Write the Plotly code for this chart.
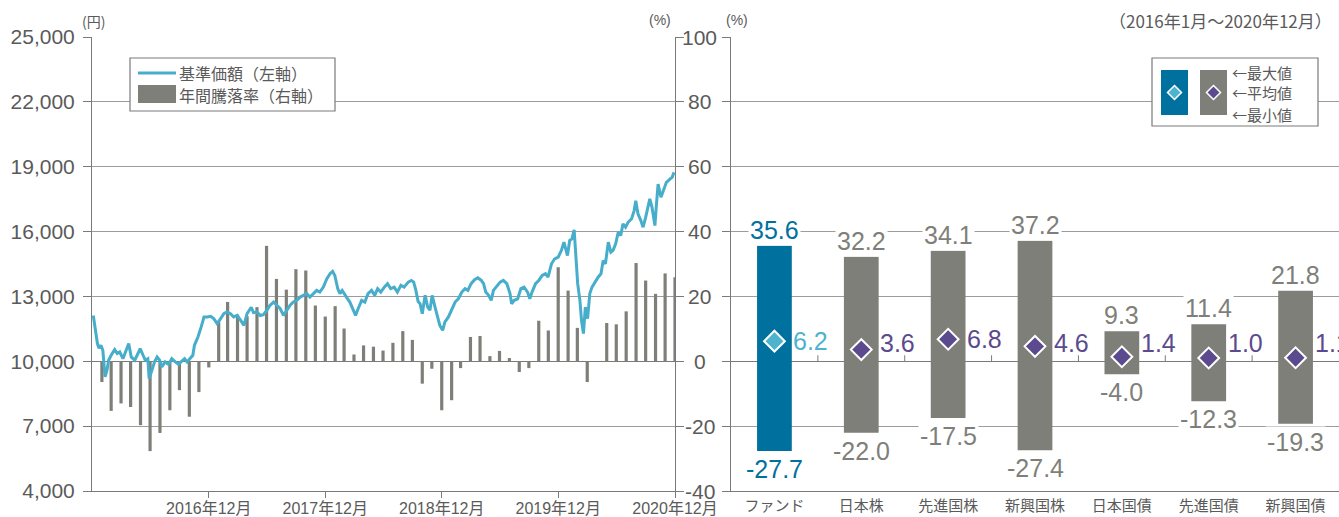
import plotly.graph_objects as go
import pandas as pd

W, H = 1339, 517

# ---------------- data: left chart ----------------
nav_dates = [
    "2016-01-04", "2016-01-08", "2016-01-17", "2016-01-22", "2016-01-28", "2016-02-03", "2016-02-10",
    "2016-02-16", "2016-02-21", "2016-02-29", "2016-03-11", "2016-03-19", "2016-03-27", "2016-04-06",
    "2016-04-13", "2016-04-24", "2016-05-02", "2016-05-13", "2016-05-23", "2016-05-30", "2016-06-08",
    "2016-06-15", "2016-06-23", "2016-06-27", "2016-07-06", "2016-07-14", "2016-07-22", "2016-07-30",
    "2016-08-06", "2016-08-16", "2016-08-27", "2016-09-06", "2016-09-17", "2016-09-27", "2016-10-05",
    "2016-10-16", "2016-10-24", "2016-11-01", "2016-11-11", "2016-11-16", "2016-11-27", "2016-12-07",
    "2016-12-16", "2016-12-26", "2017-01-06", "2017-01-16", "2017-01-26", "2017-02-06", "2017-02-16",
    "2017-02-26", "2017-03-09", "2017-03-19", "2017-03-30", "2017-04-10", "2017-04-20", "2017-04-30",
    "2017-05-13", "2017-05-20", "2017-05-31", "2017-06-10", "2017-06-20", "2017-07-01", "2017-07-11",
    "2017-07-22", "2017-08-01", "2017-08-12", "2017-08-22", "2017-09-02", "2017-09-12", "2017-09-22",
    "2017-10-03", "2017-10-13", "2017-10-23", "2017-11-03", "2017-11-13", "2017-11-23", "2017-12-04",
    "2017-12-14", "2017-12-25", "2018-01-05", "2018-01-15", "2018-01-23", "2018-01-30", "2018-02-08",
    "2018-02-15", "2018-02-22", "2018-03-03", "2018-03-11", "2018-03-18", "2018-03-28", "2018-04-05",
    "2018-04-13", "2018-04-24", "2018-05-04", "2018-05-14", "2018-05-25", "2018-06-04", "2018-06-13",
    "2018-06-23", "2018-07-04", "2018-07-14", "2018-07-24", "2018-08-04", "2018-08-14", "2018-08-25",
    "2018-09-04", "2018-09-17", "2018-09-27", "2018-10-04", "2018-10-11", "2018-10-18", "2018-10-24",
    "2018-10-31", "2018-11-09", "2018-11-17", "2018-11-24", "2018-12-01", "2018-12-10", "2018-12-18",
    "2018-12-25", "2019-01-03", "2019-01-10", "2019-01-21", "2019-01-31", "2019-02-11", "2019-02-21",
    "2019-03-04", "2019-03-14", "2019-03-23", "2019-04-02", "2019-04-13", "2019-04-23", "2019-05-04",
    "2019-05-11", "2019-05-18", "2019-05-27", "2019-06-04", "2019-06-11", "2019-06-22", "2019-07-02",
    "2019-07-12", "2019-07-23", "2019-08-02", "2019-08-07", "2019-08-15", "2019-08-26", "2019-09-05",
    "2019-09-15", "2019-09-26", "2019-10-03", "2019-10-10", "2019-10-21", "2019-10-31", "2019-11-11",
    "2019-11-21", "2019-11-29", "2019-12-10", "2019-12-20", "2019-12-31", "2020-01-10", "2020-01-18",
    "2020-01-29", "2020-02-05", "2020-02-12", "2020-02-19", "2020-02-23", "2020-03-01", "2020-03-08",
    "2020-03-13", "2020-03-19", "2020-03-25", "2020-04-01", "2020-04-08", "2020-04-15", "2020-04-24",
    "2020-05-04", "2020-05-13", "2020-05-20", "2020-05-27", "2020-06-05", "2020-06-13", "2020-06-20",
    "2020-06-28", "2020-07-06", "2020-07-14", "2020-07-21", "2020-07-29", "2020-08-06", "2020-08-17",
    "2020-08-25", "2020-08-30", "2020-09-06", "2020-09-15", "2020-09-22", "2020-09-30", "2020-10-08",
    "2020-10-13", "2020-10-20", "2020-10-29", "2020-11-03", "2020-11-08", "2020-11-17", "2020-11-24",
    "2020-12-04", "2020-12-15", "2020-12-22", "2020-12-28",
]
nav_values = [
    12120, 11740, 10820, 10600, 10740, 10510, 9280,
    9590, 10050, 10280, 10540, 10360, 10430, 10120,
    10360, 10820, 10200, 10050, 10360, 10590, 10280,
    10050, 10120, 9200, 9590, 9970, 10200, 10050,
    9740, 9970, 9860, 10120, 9970, 9860, 9970,
    10120, 9970, 10120, 10280, 10740, 11120, 11580,
    12050, 12050, 12080, 11970, 11740, 11970, 12200,
    12280, 12200, 12050, 12120, 11890, 11660, 12200,
    12500, 12250, 12280, 12120, 12160, 12360, 12590,
    12740, 12590, 12430, 12120, 12360, 12590, 12740,
    12820, 12970, 13050, 13130, 12970, 13130, 13280,
    13200, 13430, 13820, 14050, 14160, 13970, 13360,
    13130, 13280, 13050, 12890, 12740, 12430, 12120,
    12430, 12820, 12740, 13130, 13280, 13050, 13360,
    13200, 13430, 13590, 13360, 13430, 13200, 13510,
    13430, 13660, 13740, 13660, 13280, 12760, 12660,
    12200, 13050, 12510, 12360, 13050, 12510, 12050,
    11660, 11430, 11820, 12050, 12360, 12740, 12890,
    13200, 13360, 13280, 13590, 13770, 13860, 13740,
    13590, 13200, 13050, 12820, 13280, 13510, 13660,
    13740, 13590, 13130, 12660, 12820, 12890, 13360,
    13430, 13200, 12890, 13200, 13590, 13740, 13970,
    14050, 13890, 14510, 14740, 14820, 15130, 15510,
    14890, 15590, 15660, 16080, 15280, 13590, 12820,
    11890, 11280, 12510, 11970, 13130, 13430, 13660,
    13890, 14050, 14660, 14510, 15510, 15050, 15130,
    15430, 15970, 15820, 16360, 16200, 16430, 16590,
    16970, 17430, 16820, 16510, 16200, 16660, 17120,
    17510, 17120, 16280, 17280, 18200, 17590, 17890,
    18280, 18430, 18510, 18740,
]

ret_months = pd.date_range("2016-01-01", periods=60, freq="MS") + pd.offsets.MonthEnd(0)
ret_values = [
    -6.4, -15.3, -13.0, -14.1, -19.7, -27.7, -22.1, -15.1, -8.9, -17.1, -9.5, -1.9,
    12.3, 18.3, 14.4, 13.9, 16.7, 35.6, 25.4, 22.1, 28.4, 28.0, 17.2, 13.8,
    17.0, 10.1, 2.1, 4.9, 4.5, 3.3, 5.7, 9.3, 6.6, -6.9, -2.3, -15.1,
    -12.0, -2.1, 7.5, 7.8, 1.6, 3.2, 1.0, -3.3, -2.1, 12.5, 9.5, 29.0,
    21.8, 10.3, -6.4, -0.2, 11.8, 11.4, 15.4, 30.3, 24.9, 20.8, 27.1, 25.9,
]

yen_ticks = [4000, 7000, 10000, 13000, 16000, 19000, 22000, 25000]
pct_ticks = [-40, -20, 0, 20, 40, 60, 80, 100]
x_tick_dates = ["2016-12-31", "2017-12-31", "2018-12-31", "2019-12-31", "2020-12-31"]
x_tick_text = ["2016年12月", "2017年12月", "2018年12月", "2019年12月", "2020年12月"]

# ---------------- data: right chart ----------------
categories = ["ファンド", "日本株", "先進国株", "新興国株", "日本国債", "先進国債", "新興国債"]
max_values = [35.6, 32.2, 34.1, 37.2, 9.3, 11.4, 21.8]
min_values = [-27.7, -22.0, -17.5, -27.4, -4.0, -12.3, -19.3]
avg_values = [6.2, 3.6, 6.8, 4.6, 1.4, 1.0, 1.1]

# ---------------- style ----------------
LINE_BLUE = "#46aecb"
GRAY_BAR = "#7f7f79"
FUND_BLUE = "#00719e"
LIGHT_BLUE = "#4db3cf"
PURPLE = "#5c4a8e"
TEXT = "#5a5a5a"
AXIS = "#7a7a7a"
GRID = "#9c9c9c"
NUM_FONT = "Liberation Sans, Noto Sans CJK JP, sans-serif"
JP_FONT = "Noto Sans CJK JP, sans-serif"

M_T, M_B = 37, 26
PLOT_BOTTOM = H - M_B
PLOT_H = H - M_T - M_B


def PX(x):
    return x / W


def PY(y):
    return (PLOT_BOTTOM - y) / PLOT_H


fig = go.Figure()

# left chart: annual returns (bars) and NAV (line)
fig.add_trace(go.Bar(
    x=ret_months, y=ret_values, xaxis="x", yaxis="y",
    marker=dict(color=GRAY_BAR, line=dict(width=0)),
    width=10 * 86400000, showlegend=False, hoverinfo="skip",
))
fig.add_trace(go.Scatter(
    x=nav_dates, y=nav_values, xaxis="x", yaxis="y2", mode="lines",
    line=dict(color=LINE_BLUE, width=3), showlegend=False, hoverinfo="skip",
))

# right chart: range bars and averages
bar_colors = [FUND_BLUE] + [GRAY_BAR] * (len(categories) - 1)
label_colors = [FUND_BLUE] + [GRAY_BAR] * (len(categories) - 1)
avg_colors = [LIGHT_BLUE] + [PURPLE] * (len(categories) - 1)
fig.add_trace(go.Bar(
    x=categories, y=[mx - mn for mx, mn in zip(max_values, min_values)], base=min_values,
    xaxis="x2", yaxis="y3", marker=dict(color=bar_colors, line=dict(width=0)),
    width=0.4, showlegend=False, hoverinfo="skip",
))
fig.add_trace(go.Scatter(
    x=categories, y=avg_values, xaxis="x2", yaxis="y3", mode="markers",
    marker=dict(symbol="diamond", size=16, color=avg_colors, line=dict(color="white", width=2)),
    showlegend=False, hoverinfo="skip",
))

annotations = []
shapes = []

for cat, mx, mn, av, lc, ac in zip(categories, max_values, min_values, avg_values, label_colors, avg_colors):
    annotations.append(dict(x=cat, y=mx, xref="x2", yref="y3", text=f"{mx:.1f}", showarrow=False,
                            yanchor="bottom", yshift=0, font=dict(family=NUM_FONT, size=25, color=lc),
                            bgcolor="white", borderpad=1))
    annotations.append(dict(x=cat, y=mn, xref="x2", yref="y3", text=f"{mn:.1f}", showarrow=False,
                            yanchor="top", yshift=-2, font=dict(family=NUM_FONT, size=25, color=lc),
                            bgcolor="white", borderpad=1))
    annotations.append(dict(x=cat, y=max(av, 5.6), xref="x2", yref="y3", text=f"{av:.1f}", showarrow=False,
                            xanchor="left", xshift=17, yanchor="middle",
                            font=dict(family=NUM_FONT, size=25, color=ac)))

# boundary ticks on the zero line of the right chart
for i in range(1, len(categories)):
    shapes.append(dict(type="line", xref="x2", yref="y3", x0=i - 0.5, x1=i - 0.5,
                       ysizemode="pixel", yanchor=0, y0=0, y1=6,
                       line=dict(color=AXIS, width=1), layer="above"))

# shared percent tick labels, centred in the gap between the two charts
for v in pct_ticks:
    annotations.append(dict(x=PX(700), y=v, xref="paper", yref="y3", text=str(v), showarrow=False,
                            xanchor="center", yanchor="middle",
                            font=dict(family=NUM_FONT, size=21, color=TEXT)))

# unit labels / period
annotations += [
    dict(x=PX(93), y=PY(21), xref="paper", yref="paper", text="(円)", showarrow=False,
         xanchor="center", yanchor="middle", font=dict(family=JP_FONT, size=14, color=TEXT)),
    dict(x=PX(660), y=PY(20), xref="paper", yref="paper", text="(%)", showarrow=False,
         xanchor="center", yanchor="middle", font=dict(family=NUM_FONT, size=14, color=TEXT)),
    dict(x=PX(737), y=PY(20), xref="paper", yref="paper", text="(%)", showarrow=False,
         xanchor="center", yanchor="middle", font=dict(family=NUM_FONT, size=14, color=TEXT)),
    dict(x=PX(1334), y=PY(20), xref="paper", yref="paper", text="（2016年1月～2020年12月）", showarrow=False,
         xanchor="right", yanchor="middle", font=dict(family=JP_FONT, size=17, color=TEXT)),
]

# left legend
shapes += [
    dict(type="rect", xref="paper", yref="paper", x0=PX(130), x1=PX(335), y0=PY(58), y1=PY(111),
         line=dict(color=AXIS, width=1.2), fillcolor="white", layer="above"),
    dict(type="line", xref="paper", yref="paper", x0=PX(138), x1=PX(176), y0=PY(73), y1=PY(73),
         line=dict(color=LINE_BLUE, width=3), layer="above"),
    dict(type="rect", xref="paper", yref="paper", x0=PX(138), x1=PX(176), y0=PY(85), y1=PY(103),
         line=dict(width=0), fillcolor=GRAY_BAR, layer="above"),
]
annotations += [
    dict(x=PX(178), y=PY(73), xref="paper", yref="paper", text="基準価額（左軸）", showarrow=False,
         xanchor="left", yanchor="middle", borderpad=0, font=dict(family=JP_FONT, size=16, color=TEXT)),
    dict(x=PX(178), y=PY(95), xref="paper", yref="paper", text="年間騰落率（右軸）", showarrow=False,
         xanchor="left", yanchor="middle", borderpad=0, font=dict(family=JP_FONT, size=16, color=TEXT)),
]


def diamond_path(cx, cy, r):
    pts = [(cx, cy - r), (cx + r, cy), (cx, cy + r), (cx - r, cy)]
    return "M " + " L ".join(f"{PX(x):.5f},{PY(y):.5f}" for x, y in pts) + " Z"


# right legend
shapes += [
    dict(type="rect", xref="paper", yref="paper", x0=PX(1152), x1=PX(1318), y0=PY(58), y1=PY(126),
         line=dict(color=AXIS, width=1.2), fillcolor="white", layer="above"),
    dict(type="rect", xref="paper", yref="paper", x0=PX(1161), x1=PX(1188), y0=PY(70), y1=PY(115),
         line=dict(width=0), fillcolor=FUND_BLUE, layer="above"),
    dict(type="rect", xref="paper", yref="paper", x0=PX(1200), x1=PX(1227), y0=PY(70), y1=PY(115),
         line=dict(width=0), fillcolor=GRAY_BAR, layer="above"),
    dict(type="path", xref="paper", yref="paper", path=diamond_path(1174.5, 92.5, 7),
         line=dict(color="white", width=1.5), fillcolor=LIGHT_BLUE, layer="above"),
    dict(type="path", xref="paper", yref="paper", path=diamond_path(1213.5, 92.5, 7),
         line=dict(color="white", width=1.5), fillcolor=PURPLE, layer="above"),
]
for txt, yy in [("←最大値", 72), ("←平均値", 93), ("←最小値", 114)]:
    annotations.append(dict(x=PX(1231), y=PY(yy), xref="paper", yref="paper", text=txt, showarrow=False,
                            xanchor="left", yanchor="middle", borderpad=0,
                            font=dict(family=JP_FONT, size=15, color=TEXT)))

fig.update_layout(
    template="none",
    width=W, height=H,
    margin=dict(l=0, r=0, t=M_T, b=M_B, pad=0, autoexpand=False),
    paper_bgcolor="white", plot_bgcolor="white",
    barmode="overlay",
    showlegend=False,
    xaxis=dict(
        domain=[PX(92), PX(675)], anchor="y", type="date", automargin=False,
        range=["2015-12-31", "2020-12-31"],
        tickvals=x_tick_dates, ticktext=x_tick_text,
        ticks="outside", ticklen=6, tickcolor=AXIS, showline=True, linecolor=AXIS, linewidth=1,
        showgrid=False, zeroline=False, ticklabelstandoff=-3,
        tickfont=dict(family=NUM_FONT, size=16, color=TEXT),
    ),
    yaxis=dict(
        anchor="x", side="right", range=[-40, 100], tickvals=pct_ticks, showticklabels=False,
        automargin=False,
        ticks="outside", ticklen=8, tickcolor=AXIS, showline=True, linecolor=AXIS, linewidth=1,
        showgrid=True, gridcolor=GRID, gridwidth=1, zeroline=True, zerolinecolor=AXIS, zerolinewidth=1,
    ),
    yaxis2=dict(
        anchor="x", overlaying="y", side="left", range=[4000, 25000], tickvals=yen_ticks,
        automargin=False,
        tickformat=",d", ticks="outside", ticklen=8, tickcolor=AXIS, showline=True, linecolor=AXIS,
        linewidth=1, showgrid=False, zeroline=False, ticklabelstandoff=4,
        tickfont=dict(family=NUM_FONT, size=21, color=TEXT),
    ),
    xaxis2=dict(
        domain=[PX(731), 1.0], anchor="y3", type="category", range=[-0.5, len(categories) - 0.5],
        automargin=False,
        ticks="outside", ticklen=6, tickcolor="rgba(0,0,0,0)", showline=True, linecolor=AXIS,
        linewidth=1, showgrid=False, zeroline=False, ticklabelstandoff=-5,
        tickfont=dict(family=JP_FONT, size=15, color=TEXT),
    ),
    yaxis3=dict(
        anchor="x2", range=[-40, 100], tickvals=pct_ticks, showticklabels=False, automargin=False,
        ticks="outside", ticklen=8, tickcolor=AXIS, showline=True, linecolor=AXIS, linewidth=1,
        showgrid=True, gridcolor=GRID, gridwidth=1, zeroline=True, zerolinecolor=AXIS, zerolinewidth=1,
    ),
    annotations=annotations,
    shapes=shapes,
)

fig.write_html(
    "out.html",
    config={"displayModeBar": False},
    post_script="document.body.style.margin='0';document.body.style.padding='0';",
)
